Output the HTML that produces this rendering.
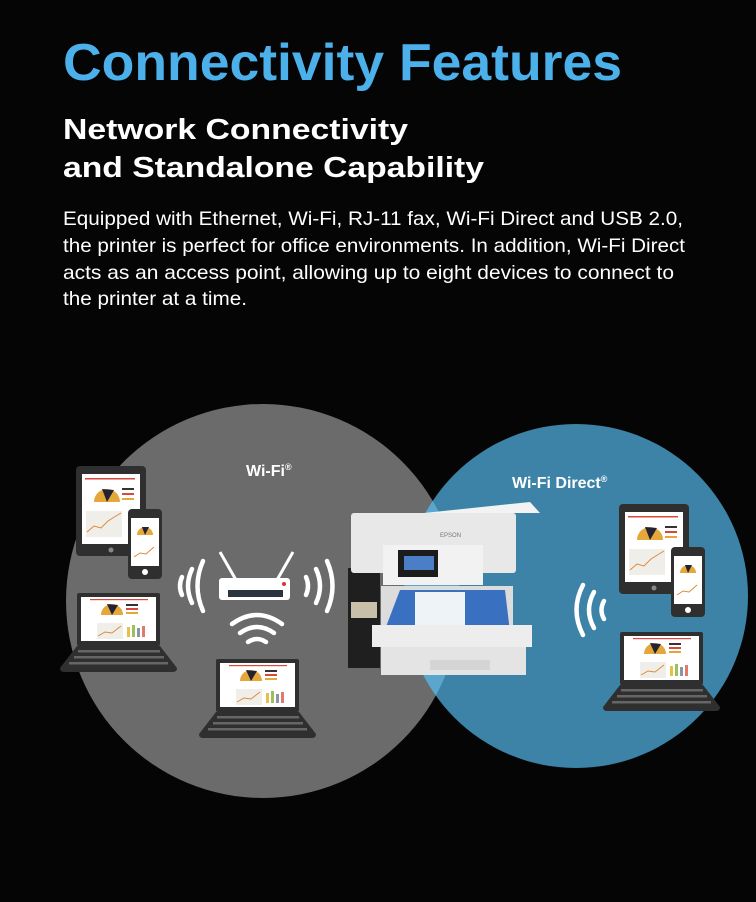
<!DOCTYPE html>
<html><head><meta charset="utf-8"><style>
html,body{margin:0;padding:0;background:#050505;}
svg{display:block}
text{font-family:"Liberation Sans",Arial,sans-serif}
</style></head><body>
<svg width="756" height="902" viewBox="0 0 756 902" xmlns="http://www.w3.org/2000/svg">
<rect width="756" height="902" fill="#050505"/>
<text x="63" y="80" font-size="52" font-weight="bold" fill="#4cb0ea" textLength="559" lengthAdjust="spacingAndGlyphs">Connectivity Features</text>
<text x="63" y="139" font-size="29" font-weight="bold" fill="#fff" textLength="345" lengthAdjust="spacingAndGlyphs">Network Connectivity</text>
<text x="63" y="177" font-size="29" font-weight="bold" fill="#fff" textLength="421" lengthAdjust="spacingAndGlyphs">and Standalone Capability</text>
<g font-size="19.5" fill="#fff">
<text x="63" y="225" textLength="620" lengthAdjust="spacingAndGlyphs">Equipped with Ethernet, Wi-Fi, RJ-11 fax, Wi-Fi Direct and USB 2.0,</text>
<text x="63" y="252" textLength="622" lengthAdjust="spacingAndGlyphs">the printer is perfect for office environments. In addition, Wi-Fi Direct</text>
<text x="63" y="279" textLength="611" lengthAdjust="spacingAndGlyphs">acts as an access point, allowing up to eight devices to connect to</text>
<text x="63" y="305" textLength="184" lengthAdjust="spacingAndGlyphs">the printer at a time.</text>
</g>
<defs>
<clipPath id="cg"><circle cx="263" cy="601" r="197"/></clipPath>
<g id="tab"><rect x="0" y="0" width="70" height="90" rx="4" fill="#2f2f2f"/><rect x="6" y="8" width="58" height="70" fill="#fff"/><circle cx="35" cy="84" r="2.5" fill="#888"/>
<rect x="9" y="12" width="50" height="1.5" fill="#d9463a"/><path d="M18 36 A13 13 0 0 1 44 36 Z" fill="#e5a73a"/><path d="M26 23 L31 36 L38 24 Z" fill="#223"/><rect x="46" y="22" width="12" height="2" fill="#333"/><rect x="46" y="27" width="12" height="2" fill="#d9463a"/><rect x="46" y="32" width="12" height="2" fill="#e5a73a"/><rect x="10" y="45" width="36" height="26" fill="#f0eee8"/><polyline points="11,66 18,60 25,62 32,55 40,50 45,47" stroke="#e08a3a" fill="none"/></g>
<g id="ph"><rect x="0" y="0" width="34" height="70" rx="4" fill="#2f2f2f"/><rect x="3" y="9" width="28" height="48" fill="#fff"/><circle cx="17" cy="63" r="3" fill="#fff"/><path d="M9 26 A8 8 0 0 1 25 26 Z" fill="#e5a73a"/><path d="M14 18 L17 26 L21 18 Z" fill="#223"/><polyline points="6,48 12,44 18,45 26,38" stroke="#e08a3a" fill="none"/></g>
<g id="lap"><rect x="17" y="0" width="83" height="53" rx="2" fill="#2f2f2f"/><rect x="21" y="4" width="75" height="44" fill="#fff"/><rect x="30" y="6" width="58" height="1.2" fill="#d9463a"/><path d="M41 22 A11 11 0 0 1 63 22 Z" fill="#e5a73a"/><path d="M47 11 L52 22 L58 12 Z" fill="#223"/><rect x="66" y="11" width="12" height="2" fill="#333"/><rect x="66" y="15" width="12" height="2" fill="#d9463a"/><rect x="66" y="19" width="12" height="2" fill="#e5a73a"/><rect x="37" y="30" width="26" height="16" fill="#f0eee8"/><polyline points="38,43 45,39 52,40 61,33" stroke="#e08a3a" fill="none"/><rect x="67" y="34" width="3" height="10" fill="#e5c04a"/><rect x="72" y="32" width="3" height="12" fill="#9fbf5a"/><rect x="77" y="35" width="3" height="9" fill="#8a96a8"/><rect x="82" y="33" width="3" height="11" fill="#e07a6a"/>
<path d="M17 53 L100 53 L117 75 Q117 79 113 79 L4 79 Q0 79 0 75 Z" fill="#2f2f2f"/><rect x="18" y="57" width="82" height="2.5" fill="#666"/><rect x="14" y="63" width="90" height="2.5" fill="#666"/><rect x="9" y="69" width="99" height="2.5" fill="#666"/></g>
</defs>
<circle cx="263" cy="601" r="197" fill="#6b6b6b"/>
<circle cx="576" cy="596" r="172" fill="#3d83a7"/>
<circle cx="576" cy="596" r="172" fill="#5aa6cc" clip-path="url(#cg)"/>
<text x="246" y="476" font-size="16" font-weight="bold" fill="#fff">Wi-Fi<tspan font-size="9" dy="-6">®</tspan></text>
<text x="512" y="488" font-size="16" font-weight="bold" fill="#fff">Wi-Fi Direct<tspan font-size="9" dy="-6">®</tspan></text>
<use href="#tab" x="76" y="466"/><use href="#ph" x="128" y="509"/><use href="#lap" x="60" y="593"/>
<use href="#lap" x="199" y="659"/>
<use href="#tab" x="619" y="504"/><use href="#ph" x="671" y="547"/><use href="#lap" x="603" y="632"/>
<!-- router -->
<line x1="220" y1="552" x2="236" y2="580" stroke="#fff" stroke-width="3"/>
<line x1="293" y1="552" x2="277" y2="580" stroke="#fff" stroke-width="3"/>
<rect x="219" y="578" width="71" height="22" rx="3" fill="#fff"/>
<rect x="228" y="590" width="55" height="7" fill="#2c3440"/><circle cx="284" cy="584" r="2" fill="#d33"/>
<g fill="none" stroke="#fff" stroke-width="4.5" stroke-linecap="round">
<path d="M182 577 Q178 586 182 595"/><path d="M192 569 Q184 586 192 603"/><path d="M203 561 Q192 586 203 611"/>
<path d="M306 577 Q310 586 306 595"/><path d="M316 569 Q324 586 316 603"/><path d="M327 561 Q338 586 327 611"/>
<path d="M248 642 Q257 636 266 642"/><path d="M240 633 Q257 621 274 633"/><path d="M232 624 Q257 606 282 624"/>
<path d="M604 601 Q599 610 604 619"/><path d="M594 592 Q584 610 594 628"/><path d="M583 585 Q570 610 583 635"/>
</g>
<!-- printer -->
<rect x="348" y="568" width="32" height="100" fill="#1f1f1f"/>
<rect x="351" y="602" width="26" height="16" fill="#c8c0a8"/>
<rect x="351" y="513" width="165" height="60" rx="3" fill="#e8e8e8"/>
<path d="M424 513 L530 502 L540 513 Z" fill="#f3f3f3"/>
<rect x="383" y="545" width="100" height="40" fill="#f2f2f2"/>
<rect x="398" y="550" width="40" height="27" fill="#1c1c1c"/><rect x="404" y="556" width="30" height="14" fill="#4a7fc8"/>
<rect x="381" y="586" width="132" height="44" fill="#dcdcdc"/>
<path d="M384 632 L400 590 L505 590 L510 632 Z" fill="#3a70c0"/>
<rect x="415" y="592" width="50" height="36" fill="#eef3f8"/>
<rect x="372" y="625" width="160" height="22" fill="#ededed"/>
<rect x="381" y="647" width="145" height="28" fill="#e4e4e4"/>
<rect x="430" y="660" width="60" height="10" fill="#d5d5d5"/>
<text x="440" y="537" font-size="6" fill="#777">EPSON</text>
</svg>
</body></html>
